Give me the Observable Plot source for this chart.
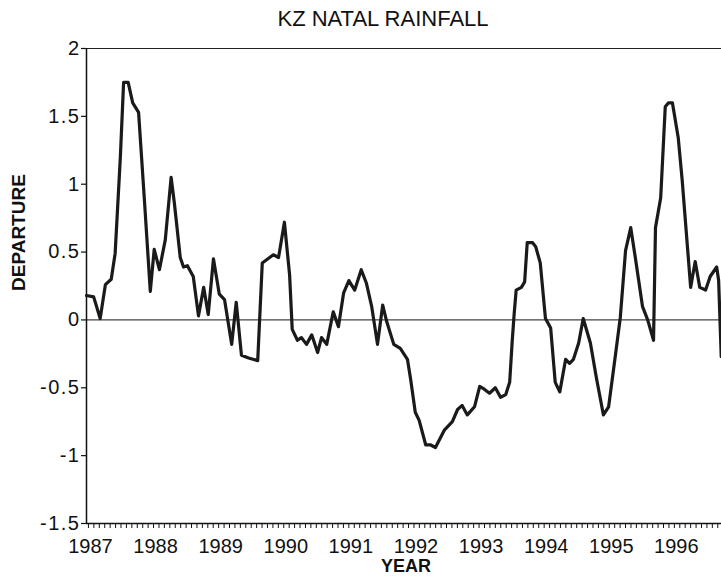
<!DOCTYPE html>
<html><head><meta charset="utf-8">
<script src="https://cdn.jsdelivr.net/npm/d3@7"></script>
<script src="https://cdn.jsdelivr.net/npm/@observablehq/plot@0.6"></script>
<style>
body{margin:0;background:#fff} #chart{width:721px;height:578px}
g[aria-label="y-axis tick label"] text{letter-spacing:1.5px}
</style>
</head><body><div id="chart"></div>
<script>
const title = "KZ NATAL RAINFALL";
const yLabel = "DEPARTURE";
const xLabel = "YEAR";
const yearTicks = [1987, 1988, 1989, 1990, 1991, 1992, 1993, 1994, 1995, 1996];
const valueTicks = [-1.5, -1, -0.5, 0, 0.5, 1, 1.5, 2];
const years = [
  1986.97, 1987.08, 1987.18, 1987.26, 1987.35, 1987.41, 1987.49, 1987.54, 1987.61, 1987.68,
  1987.77, 1987.86, 1987.95, 1988.01, 1988.09, 1988.18, 1988.27, 1988.32, 1988.41, 1988.46,
  1988.52, 1988.61, 1988.69, 1988.77, 1988.84, 1988.92, 1989.01, 1989.09, 1989.20, 1989.27,
  1989.35, 1989.46, 1989.60, 1989.67, 1989.84, 1989.92, 1990.01, 1990.09, 1990.13, 1990.21,
  1990.27, 1990.35, 1990.43, 1990.52, 1990.58, 1990.66, 1990.76, 1990.84, 1990.92, 1991.00,
  1991.09, 1991.19, 1991.27, 1991.35, 1991.44, 1991.52, 1991.58, 1991.69, 1991.79, 1991.90,
  1991.95, 1992.02, 1992.08, 1992.18, 1992.25, 1992.33, 1992.47, 1992.59, 1992.67, 1992.74,
  1992.82, 1992.93, 1993.01, 1993.08, 1993.16, 1993.25, 1993.33, 1993.41, 1993.47, 1993.51,
  1993.54, 1993.57, 1993.65, 1993.70, 1993.74, 1993.82, 1993.87, 1993.94, 1994.02, 1994.10,
  1994.17, 1994.24, 1994.33, 1994.39, 1994.45, 1994.53, 1994.60, 1994.71, 1994.80, 1994.91,
  1994.99, 1995.10, 1995.17, 1995.25, 1995.33, 1995.40, 1995.51, 1995.59, 1995.68, 1995.71,
  1995.79, 1995.86, 1995.91, 1995.97, 1996.06, 1996.12, 1996.25, 1996.32, 1996.39, 1996.48,
  1996.55, 1996.65, 1996.68, 1996.72
];
const departure = [
  0.18, 0.17, 0.01, 0.26, 0.30, 0.49, 1.20, 1.75, 1.75, 1.60,
  1.53, 0.88, 0.21, 0.52, 0.37, 0.59, 1.05, 0.86, 0.46, 0.39,
  0.40, 0.32, 0.03, 0.24, 0.04, 0.45, 0.19, 0.15, -0.18, 0.13,
  -0.26, -0.28, -0.30, 0.42, 0.48, 0.46, 0.72, 0.33, -0.07, -0.15,
  -0.13, -0.18, -0.11, -0.24, -0.13, -0.18, 0.06, -0.05, 0.20, 0.29,
  0.22, 0.37, 0.27, 0.10, -0.18, 0.11, -0.01, -0.18, -0.21, -0.29,
  -0.44, -0.68, -0.74, -0.92, -0.92, -0.94, -0.81, -0.75, -0.66, -0.63,
  -0.70, -0.64, -0.49, -0.51, -0.54, -0.50, -0.57, -0.55, -0.46, -0.15,
  0.05, 0.22, 0.24, 0.28, 0.57, 0.57, 0.54, 0.42, 0.01, -0.06,
  -0.46, -0.53, -0.29, -0.32, -0.29, -0.17, 0.01, -0.17, -0.42, -0.70,
  -0.64, -0.24, 0.02, 0.51, 0.68, 0.46, 0.10, 0.00, -0.15, 0.68,
  0.90, 1.57, 1.60, 1.60, 1.34, 1.03, 0.24, 0.43, 0.24, 0.22,
  0.32, 0.39, 0.29, -0.27
];
const xMin = 1986.97, xMax = 1996.724;
const data = years.map((t, i) => ({t, v: departure[i]}));
const monthTicks = d3.range(0, 120).map(i => 1987 + i / 12).filter(t => t <= xMax);
const font = '"Liberation Sans", Arial, Helvetica, sans-serif';

const chart = Plot.plot({
  width: 721, height: 578,
  marginLeft: 86, marginRight: 0, marginTop: 48, marginBottom: 55,
  style: {fontFamily: font, fontSize: "20px", color: "#111", background: "#fff", overflow: "visible"},
  x: {domain: [xMin, xMax]},
  y: {domain: [-1.5, 2]},
  marks: [
    Plot.ruleY([0], {stroke: "#444", strokeWidth: 1.2}),
    Plot.ruleY([2], {stroke: "#222", strokeWidth: 1.2}),
    Plot.ruleY([-1.5], {stroke: "#111", strokeWidth: 1.5}),
    Plot.ruleX([xMin], {stroke: "#111", strokeWidth: 1.5}),
    Plot.axisY({ticks: valueTicks, tickSize: 5, tickPadding: 1, tickFormat: d => String(d), label: null, strokeWidth: 1.2}),
    Plot.axisX({ticks: monthTicks, tickSize: 5, tickFormat: () => "", label: null, strokeWidth: 1}),
    Plot.axisX({ticks: yearTicks, tickSize: 0, tickPadding: 15, tickFormat: d => String(d), label: null, dx: 2}),
    Plot.line(data, {x: "t", y: "v", stroke: "#1a1a1a", strokeWidth: 3.2, strokeLinejoin: "round", strokeLinecap: "round"}),
    Plot.text([title], {frameAnchor: "top", dx: -21, dy: -30, lineAnchor: "middle", fontSize: 22, fill: "#111"}),
    Plot.text([yLabel], {frameAnchor: "left", dx: -68, dy: 5, rotate: -90, lineAnchor: "middle", fontSize: 19, fontWeight: "bold", fill: "#111"}),
    Plot.text([xLabel], {frameAnchor: "bottom", dx: 2, dy: 43, lineAnchor: "middle", fontSize: 18, fontWeight: "bold", fill: "#111"})
  ]
});
document.getElementById("chart").append(chart);
</script>
</body></html>
